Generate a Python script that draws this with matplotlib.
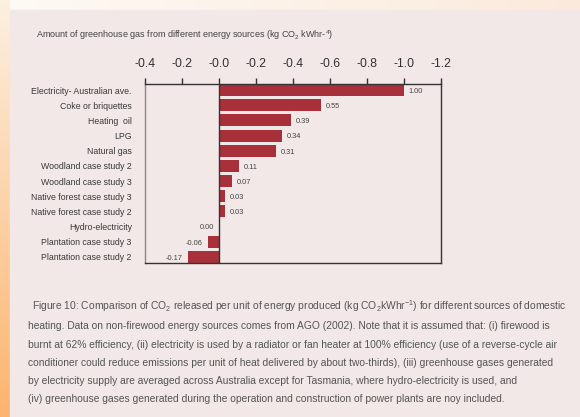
import matplotlib.pyplot as plt
import matplotlib as mpl
import numpy as np

plt.rcParams['font.family'] = ['Liberation Sans Narrow', 'Liberation Sans', 'DejaVu Sans']
plt.rcParams['mathtext.fontset'] = 'custom'
plt.rcParams['mathtext.rm'] = 'Liberation Sans'
plt.rcParams['mathtext.it'] = 'Liberation Sans'

# data
sources = ['Electricity- Australian ave.', 'Coke or briquettes', 'Heating  oil', 'LPG',
           'Natural gas', 'Woodland case study 2', 'Woodland case study 3',
           'Native forest case study 3', 'Native forest case study 2', 'Hydro-electricity',
           'Plantation case study 3', 'Plantation case study 2']
co2 = [1.00, 0.55, 0.39, 0.34, 0.31, 0.11, 0.07, 0.03, 0.03, 0.00, -0.06, -0.17]
xticks = [-0.4, -0.2, 0.0, 0.2, 0.4, 0.6, 0.8, 1.0, 1.2]
xtick_labels = ['-0.4', '-0.2', '-0.0', '-0.2', '-0.4', '-0.6', '-0.8', '-1.0', '-1.2']

caption = [
    'Figure 10: Comparison of CO$_2$ released per unit of energy produced (kg CO$_2$kWhr$^{-1}$) for different sources of domestic',
    'heating. Data on non-firewood energy sources comes from AGO (2002). Note that it is assumed that: (i) firewood is',
    'burnt at 62% efficiency, (ii) electricity is used by a radiator or fan heater at 100% efficiency (use of a reverse-cycle air',
    'conditioner could reduce emissions per unit of heat delivered by about two-thirds), (iii) greenhouse gases generated',
    'by electricity supply are averaged across Australia except for Tasmania, where hydro-electricity is used, and',
    '(iv) greenhouse gases generated during the operation and construction of power plants are noy included.',
]

W, H = 580, 417
fig = plt.figure(figsize=(5.8, 4.17), dpi=100)

# page background: peach gradient on top, orange on the left, pale panel
bg = fig.add_axes([0, 0, 1, 1], zorder=-10)
bg.set_axis_off()
hx = np.outer(np.ones(H), np.linspace(0, 1, W))
img = np.ones((H, W, 3))
img[:, :, 0] = (254 - 3 * hx) / 255
img[:, :, 1] = (250 - 16 * hx) / 255
img[:, :, 2] = (245 - 25 * hx) / 255
vy = np.linspace(0, 1, H)
left_col = np.stack([np.full(H, 252), 240 - 60 * vy, 225 - 115 * vy], axis=1) / 255
img[:, :10, :] = left_col[:, None, :]
bg.imshow(img, extent=[0, W, H, 0], aspect='auto')
bg.add_patch(mpl.patches.Rectangle((10, 10), W - 10, H - 10, color='#f1e8e7'))
bg.set_xlim(0, W)
bg.set_ylim(H, 0)

ax = fig.add_axes([145 / W, (H - 263) / H, (441 - 145) / W, (263 - 84) / H])
ax.set_facecolor('#f1e8e7')
y = np.arange(len(sources))
ax.barh(y, co2, height=0.79, color='#a8303a', zorder=2)
ax.axvline(0, color='#333333', lw=1.0, zorder=3)
for yi, v in zip(y, co2):
    if v > 0:
        ax.annotate('%.2f' % v, (v, yi), xytext=(3.5, -1), textcoords='offset points',
                    ha='left', va='center', fontsize=5.3, color='#444444')
    else:
        ax.annotate('%.2f' % v, (v, yi), xytext=(-3.5, -1), textcoords='offset points',
                    ha='right', va='center', fontsize=5.3, color='#444444')

ax.set_xlim(-0.4, 1.2)
ax.set_ylim(11.4, -0.4)
ax.xaxis.tick_top()
ax.set_xticks(xticks)
ax.set_xticklabels(xtick_labels)
ax.tick_params(axis='x', direction='out', length=4, width=1, color='#333333',
               labelsize=8.7, labelcolor='#333333', pad=6)
ax.set_yticks(y)
ax.set_yticklabels(sources)
ax.tick_params(axis='y', length=0, labelsize=6.3, labelcolor='#3a3a3a', pad=9.5)
for side in ['top', 'right', 'bottom']:
    ax.spines[side].set_color('#333333')
    ax.spines[side].set_linewidth(1.0)
ax.spines['left'].set_color('#888888')
ax.spines['left'].set_linewidth(1.0)

fig.text(36 / W, 1 - 35 / H,
         'Amount of greenhouse gas from different energy sources (kg CO$_2$ kWhr-$^4$)',
         fontsize=6.5, color='#444444', va='center', ha='left')

line_y = [306, 326, 345, 363, 381, 399]
for i, (ln, ly) in enumerate(zip(caption, line_y)):
    fig.text((32 if i == 0 else 28) / W, 1 - ly / H, ln, fontsize=7.35,
             color='#555555', va='center', ha='left')

fig.savefig('out.png', dpi=100)
